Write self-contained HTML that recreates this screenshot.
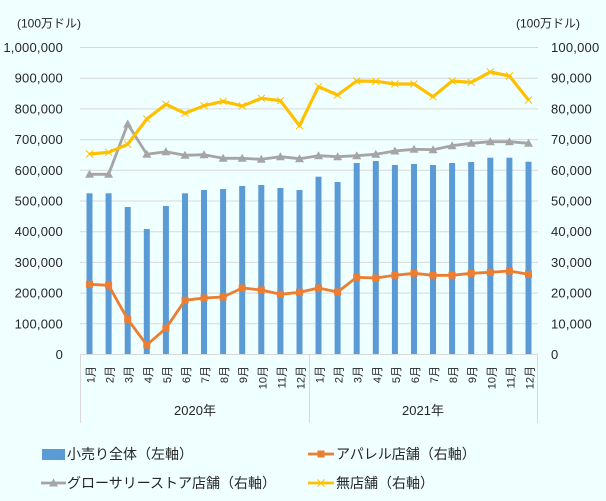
<!DOCTYPE html>
<html><head><meta charset="utf-8"><style>
html,body{margin:0;padding:0;background:#F0FFFF;}
svg{display:block;font-family:"Liberation Sans","Noto Sans CJK JP",sans-serif;}
</style></head><body>
<svg width="606" height="501" viewBox="0 0 606 501" xmlns="http://www.w3.org/2000/svg">
<defs>
<g id="sq"><rect x="-3.5" y="-3.5" width="7" height="7" fill="#ED7D31"/></g>
<g id="tri"><polygon points="0,-4.5 4.5,3.5 -4.5,3.5" fill="#A5A5A5"/></g>
<g id="xx"><path d="M-3.5,-3.5L3.5,3.5M-3.5,3.5L3.5,-3.5" stroke="#FFC000" stroke-width="1"/></g>
</defs>
<rect width="606" height="501" fill="#F0FFFF"/>
<!-- gridlines -->
<g stroke="#D9D9D9" stroke-width="1">
<line x1="80" y1="47.5" x2="538" y2="47.5"/>
<line x1="80" y1="78.2" x2="538" y2="78.2"/>
<line x1="80" y1="108.9" x2="538" y2="108.9"/>
<line x1="80" y1="139.6" x2="538" y2="139.6"/>
<line x1="80" y1="170.3" x2="538" y2="170.3"/>
<line x1="80" y1="201" x2="538" y2="201"/>
<line x1="80" y1="231.7" x2="538" y2="231.7"/>
<line x1="80" y1="262.4" x2="538" y2="262.4"/>
<line x1="80" y1="293.1" x2="538" y2="293.1"/>
<line x1="80" y1="323.8" x2="538" y2="323.8"/>
<line x1="80" y1="354.5" x2="538" y2="354.5"/>
<line x1="80.5" y1="354.5" x2="80.5" y2="423"/>
<line x1="309.5" y1="354.5" x2="309.5" y2="423"/>
<line x1="537.5" y1="354.5" x2="537.5" y2="423"/>
</g>
<!-- bars -->
<g fill="#5B9BD5">
<rect x="86.5" y="193.3" width="6" height="160.7"/>
<rect x="105.6" y="193.3" width="6" height="160.7"/>
<rect x="124.7" y="207" width="6" height="147"/>
<rect x="143.8" y="229" width="6" height="125"/>
<rect x="162.9" y="206" width="6" height="148"/>
<rect x="182" y="193.3" width="6" height="160.7"/>
<rect x="201" y="190" width="6" height="164"/>
<rect x="220.1" y="189" width="6" height="165"/>
<rect x="239.2" y="186" width="6" height="168"/>
<rect x="258.3" y="185" width="6" height="169"/>
<rect x="277.4" y="188" width="6" height="166"/>
<rect x="296.5" y="190" width="6" height="164"/>
<rect x="315.5" y="176.7" width="6" height="177.3"/>
<rect x="334.6" y="182" width="6" height="172"/>
<rect x="353.7" y="163" width="6" height="191"/>
<rect x="372.8" y="161" width="6" height="193"/>
<rect x="391.9" y="165" width="6" height="189"/>
<rect x="411" y="164" width="6" height="190"/>
<rect x="430" y="165" width="6" height="189"/>
<rect x="449.1" y="163" width="6" height="191"/>
<rect x="468.2" y="162" width="6" height="192"/>
<rect x="487.3" y="157.7" width="6" height="196.3"/>
<rect x="506.4" y="157.7" width="6" height="196.3"/>
<rect x="525.5" y="161.7" width="6" height="192.3"/>
</g>
<!-- apparel -->
<polyline fill="none" stroke="#ED7D31" stroke-width="2.8" stroke-linejoin="round" points="89.5,284.3 108.6,285.3 127.7,319.3 146.8,345 165.9,328.3 185,300.3 204,298 223.1,297 242.2,288 261.3,290 280.4,294.3 299.5,292.3 318.5,288 337.6,292 356.7,277.3 375.8,278 394.9,275.3 414,273.3 433,275.3 452.1,275.3 471.2,273.3 490.3,272.3 509.4,271 528.5,274.3"/>
<g>
<use href="#sq" x="89.5" y="284.3"/><use href="#sq" x="108.6" y="285.3"/><use href="#sq" x="127.7" y="319.3"/><use href="#sq" x="146.8" y="345"/><use href="#sq" x="165.9" y="328.3"/><use href="#sq" x="185" y="300.3"/><use href="#sq" x="204" y="298"/><use href="#sq" x="223.1" y="297"/><use href="#sq" x="242.2" y="288"/><use href="#sq" x="261.3" y="290"/><use href="#sq" x="280.4" y="294.3"/><use href="#sq" x="299.5" y="292.3"/><use href="#sq" x="318.5" y="288"/><use href="#sq" x="337.6" y="292"/><use href="#sq" x="356.7" y="277.3"/><use href="#sq" x="375.8" y="278"/><use href="#sq" x="394.9" y="275.3"/><use href="#sq" x="414" y="273.3"/><use href="#sq" x="433" y="275.3"/><use href="#sq" x="452.1" y="275.3"/><use href="#sq" x="471.2" y="273.3"/><use href="#sq" x="490.3" y="272.3"/><use href="#sq" x="509.4" y="271"/><use href="#sq" x="528.5" y="274.3"/>
</g>
<!-- grocery -->
<polyline fill="none" stroke="#A5A5A5" stroke-width="2.8" stroke-linejoin="round" points="89.5,174.3 108.6,174.3 127.7,124 146.8,154.3 165.9,151.7 185,155.3 204,154.7 223.1,158.3 242.2,158.3 261.3,159.3 280.4,156.7 299.5,158.7 318.5,155.7 337.6,156.7 356.7,155.7 375.8,154.3 394.9,151 414,149.3 433,149.7 452.1,145.7 471.2,143.3 490.3,141.7 509.4,141.7 528.5,143.3"/>
<g>
<use href="#tri" x="89.5" y="174.3"/><use href="#tri" x="108.6" y="174.3"/><use href="#tri" x="127.7" y="124"/><use href="#tri" x="146.8" y="154.3"/><use href="#tri" x="165.9" y="151.7"/><use href="#tri" x="185" y="155.3"/><use href="#tri" x="204" y="154.7"/><use href="#tri" x="223.1" y="158.3"/><use href="#tri" x="242.2" y="158.3"/><use href="#tri" x="261.3" y="159.3"/><use href="#tri" x="280.4" y="156.7"/><use href="#tri" x="299.5" y="158.7"/><use href="#tri" x="318.5" y="155.7"/><use href="#tri" x="337.6" y="156.7"/><use href="#tri" x="356.7" y="155.7"/><use href="#tri" x="375.8" y="154.3"/><use href="#tri" x="394.9" y="151"/><use href="#tri" x="414" y="149.3"/><use href="#tri" x="433" y="149.7"/><use href="#tri" x="452.1" y="145.7"/><use href="#tri" x="471.2" y="143.3"/><use href="#tri" x="490.3" y="141.7"/><use href="#tri" x="509.4" y="141.7"/><use href="#tri" x="528.5" y="143.3"/>
</g>
<!-- non-store -->
<polyline fill="none" stroke="#FFC000" stroke-width="3.2" stroke-linejoin="round" points="89.5,154 108.6,152.3 127.7,144.3 146.8,119 165.9,104.3 185,113.3 204,105.7 223.1,101.3 242.2,106 261.3,98.3 280.4,100.7 299.5,125.7 318.5,86.7 337.6,95 356.7,81 375.8,81.3 394.9,84 414,84 433,96.7 452.1,81 471.2,82.3 490.3,72 509.4,76 528.5,100"/>
<g>
<use href="#xx" x="89.5" y="154"/><use href="#xx" x="108.6" y="152.3"/><use href="#xx" x="127.7" y="144.3"/><use href="#xx" x="146.8" y="119"/><use href="#xx" x="165.9" y="104.3"/><use href="#xx" x="185" y="113.3"/><use href="#xx" x="204" y="105.7"/><use href="#xx" x="223.1" y="101.3"/><use href="#xx" x="242.2" y="106"/><use href="#xx" x="261.3" y="98.3"/><use href="#xx" x="280.4" y="100.7"/><use href="#xx" x="299.5" y="125.7"/><use href="#xx" x="318.5" y="86.7"/><use href="#xx" x="337.6" y="95"/><use href="#xx" x="356.7" y="81"/><use href="#xx" x="375.8" y="81.3"/><use href="#xx" x="394.9" y="84"/><use href="#xx" x="414" y="84"/><use href="#xx" x="433" y="96.7"/><use href="#xx" x="452.1" y="81"/><use href="#xx" x="471.2" y="82.3"/><use href="#xx" x="490.3" y="72"/><use href="#xx" x="509.4" y="76"/><use href="#xx" x="528.5" y="100"/>
</g>
<!-- unit labels -->
<g font-size="12" fill="#262626">
<text x="17" y="27.5">(100万ドル)</text>
<text x="516" y="27.5">(100万ドル)</text>
</g>
<!-- left axis labels -->
<g font-size="13" fill="#262626" text-anchor="end" letter-spacing="0.2">
<text x="63" y="52">1,000,000</text>
<text x="63" y="82.7">900,000</text>
<text x="63" y="113.4">800,000</text>
<text x="63" y="144.1">700,000</text>
<text x="63" y="174.8">600,000</text>
<text x="63" y="205.5">500,000</text>
<text x="63" y="236.2">400,000</text>
<text x="63" y="266.9">300,000</text>
<text x="63" y="297.6">200,000</text>
<text x="63" y="328.3">100,000</text>
<text x="63" y="359">0</text>
</g>
<!-- right axis labels -->
<g font-size="13" fill="#262626" letter-spacing="0.2">
<text x="551" y="52">100,000</text>
<text x="551" y="82.7">90,000</text>
<text x="551" y="113.4">80,000</text>
<text x="551" y="144.1">70,000</text>
<text x="551" y="174.8">60,000</text>
<text x="551" y="205.5">50,000</text>
<text x="551" y="236.2">40,000</text>
<text x="551" y="266.9">30,000</text>
<text x="551" y="297.6">20,000</text>
<text x="551" y="328.3">10,000</text>
<text x="551" y="359">0</text>
</g>
<!-- month labels -->
<g font-size="11" fill="#262626" text-anchor="end">
<text transform="translate(94.5,366) rotate(-90)">1月</text>
<text transform="translate(113.6,366) rotate(-90)">2月</text>
<text transform="translate(132.7,366) rotate(-90)">3月</text>
<text transform="translate(151.8,366) rotate(-90)">4月</text>
<text transform="translate(170.9,366) rotate(-90)">5月</text>
<text transform="translate(190,366) rotate(-90)">6月</text>
<text transform="translate(209,366) rotate(-90)">7月</text>
<text transform="translate(228.1,366) rotate(-90)">8月</text>
<text transform="translate(247.2,366) rotate(-90)">9月</text>
<text transform="translate(266.3,366) rotate(-90)">10月</text>
<text transform="translate(285.4,366) rotate(-90)">11月</text>
<text transform="translate(304.5,366) rotate(-90)">12月</text>
<text transform="translate(323.5,366) rotate(-90)">1月</text>
<text transform="translate(342.6,366) rotate(-90)">2月</text>
<text transform="translate(361.7,366) rotate(-90)">3月</text>
<text transform="translate(380.8,366) rotate(-90)">4月</text>
<text transform="translate(399.9,366) rotate(-90)">5月</text>
<text transform="translate(419,366) rotate(-90)">6月</text>
<text transform="translate(438,366) rotate(-90)">7月</text>
<text transform="translate(457.1,366) rotate(-90)">8月</text>
<text transform="translate(476.2,366) rotate(-90)">9月</text>
<text transform="translate(495.3,366) rotate(-90)">10月</text>
<text transform="translate(514.4,366) rotate(-90)">11月</text>
<text transform="translate(533.5,366) rotate(-90)">12月</text>
</g>
<g font-size="13" fill="#262626" text-anchor="middle">
<text x="195" y="415">2020年</text>
<text x="423" y="415">2021年</text>
</g>
<!-- legend -->
<rect x="42" y="449" width="23" height="11" fill="#5B9BD5"/>
<line x1="308" y1="454" x2="334" y2="454" stroke="#ED7D31" stroke-width="2.8"/>
<use href="#sq" x="321" y="454"/>
<line x1="41" y1="483" x2="66" y2="483" stroke="#A5A5A5" stroke-width="2.8"/>
<use href="#tri" x="53.5" y="483"/>
<line x1="308" y1="483" x2="334" y2="483" stroke="#FFC000" stroke-width="2.8"/>
<use href="#xx" x="321" y="483"/>
<g font-size="14" fill="#262626">
<text x="67" y="459">小売り全体（左軸）</text>
<text x="336" y="459">アパレル店舗（右軸）</text>
<text x="67" y="488">グローサリーストア店舗（右軸）</text>
<text x="336" y="488">無店舗（右軸）</text>
</g>
</svg>
</body></html>
